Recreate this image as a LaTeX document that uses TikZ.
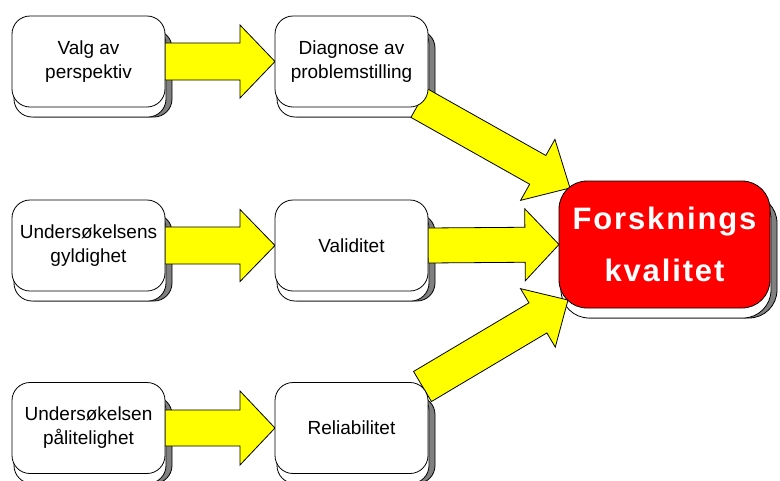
\documentclass[tikz,border=0pt]{standalone}
\usepackage{fontspec}
\setmainfont{Liberation Sans}
\newfontfamily\bigfont[LetterSpace=6]{Liberation Sans}
\usetikzlibrary{calc}

\pgfdeclarelayer{paper}
\pgfdeclarelayer{shadows}
\pgfdeclarelayer{arrows}
\pgfsetlayers{paper,shadows,arrows,main}

\definecolor{arrowyellow}{RGB}{255,255,0}
\definecolor{boxred}{RGB}{255,0,0}
\definecolor{shadegray}{RGB}{128,128,128}

% raised look behind a box: grey right side, white lower band
\newcommand\boxshade[2]{%
  \begin{pgfonlayer}{shadows}
    \filldraw[fill=shadegray, draw=black, line width=0.8pt, rounded corners=#2]
      ([shift={(5,14)}]#1.north west) rectangle ([shift={(7,10)}]#1.south east);
    \filldraw[fill=white, draw=black, line width=0.8pt, rounded corners=#2]
      ([shift={(2,10)}]#1.north west) rectangle ([shift={(1,10)}]#1.south east);
  \end{pgfonlayer}}

% block arrow: start, tip, shaft half width, head half width, head length
\newcommand\blockarrow[5]{%
  \begin{pgfonlayer}{arrows}
    \coordinate (ba-h) at ($(#2)!#5pt!(#1)$);
    \filldraw[fill=arrowyellow, draw=black, line width=0.8pt, line join=miter]
      ($(#1)!#3pt!90:(#2)$) -- ($(ba-h)!#3pt!-90:(#1)$) -- ($(ba-h)!#4pt!-90:(#1)$)
      -- (#2) -- ($(ba-h)!#4pt!90:(#1)$) -- ($(ba-h)!#3pt!90:(#1)$)
      -- ($(#1)!#3pt!-90:(#2)$) -- cycle;
  \end{pgfonlayer}}

\tikzset{
  stepbox/.style={draw=black, line width=0.8pt, fill=white, rounded corners=18pt,
    minimum width=153pt, minimum height=91pt, inner sep=0pt, outer sep=0pt,
    align=center, font=\fontsize{19}{24}\selectfont},
  goalbox/.style={draw=black, line width=0.8pt, fill=boxred, rounded corners=28pt,
    minimum width=211pt, minimum height=127pt, inner sep=0pt, outer sep=0pt,
    align=center, text=white, font=\bigfont\bfseries\fontsize{31}{52}\selectfont}
}

\begin{document}
\begin{tikzpicture}[x=1pt, y=-1pt]
  \begin{pgfonlayer}{paper}
    \fill[white] (0,0) rectangle (780,480);
  \end{pgfonlayer}
  \useasboundingbox (0,0) rectangle (780,480);

  \node[stepbox] (valg)  at (88.5,61.5)  {Valg av\\perspektiv};
  \node[stepbox] (diag)  at (351.5,61.5) {Diagnose av\\problemstilling};
  \node[stepbox] (gyld)  at (88.5,245.5) {Undersøkelsens\\gyldighet};
  \node[stepbox] (valid) at (351.5,245.5) {Validitet};
  \node[stepbox] (paal)  at (88.5,428)   {Undersøkelsen\\pålitelighet};
  \node[stepbox] (relia) at (351.5,428)  {Reliabilitet};
  \node[goalbox] (goal)  at (664.5,244.5) {Forsknings\\kvalitet};

  \boxshade{valg}{18pt}
  \boxshade{diag}{18pt}
  \boxshade{gyld}{18pt}
  \boxshade{valid}{18pt}
  \boxshade{paal}{18pt}
  \boxshade{relia}{18pt}
  \boxshade{goal}{28pt}

  \blockarrow{valg.east}{diag.west}{18.5}{36.5}{35}
  \blockarrow{gyld.east}{valid.west}{18.5}{36}{35}
  \blockarrow{paal.east}{relia.west}{18}{37}{35}
  \blockarrow{valid.east}{goal.west}{17.5}{36}{34}

  \coordinate (topstart) at ($(diag.south east)+(-9,-4)$);
  \coordinate (toptip)   at ($(goal.north west)+(11,7)$);
  \coordinate (lowstart) at ($(relia.north east)+(-5.5,4)$);
  \coordinate (lowtip)   at ($(goal.south west)+(9,-8)$);
  \blockarrow{topstart}{toptip}{16.5}{35}{37}
  \blockarrow{lowstart}{lowtip}{17.5}{34}{35}
\end{tikzpicture}
\end{document}
